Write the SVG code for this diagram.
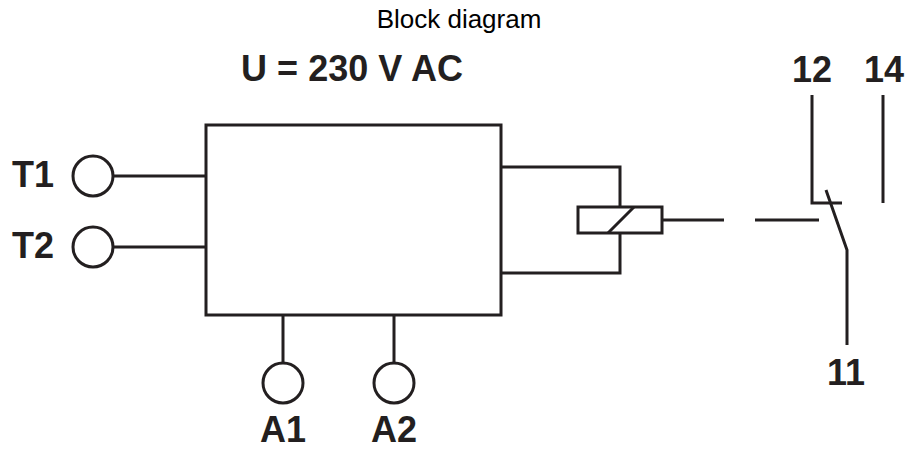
<svg xmlns="http://www.w3.org/2000/svg" width="907" height="450" viewBox="0 0 907 450">
<style>
.ln{stroke:#231f20;stroke-width:3;fill:none;stroke-linecap:butt}
.lbl{font-family:"Liberation Sans",Arial,sans-serif;font-weight:bold;font-size:36px;fill:#231f20}
.ttl{font-family:"Liberation Sans",Arial,sans-serif;font-size:26px;fill:#000}
</style>
<rect width="907" height="450" fill="#fff"/>
<text class="ttl" x="459" y="28" text-anchor="middle">Block diagram</text>
<text class="lbl" x="352" y="81" text-anchor="middle">U = 230 V AC</text>
<g id="module"><rect class="ln" x="206" y="125" width="295" height="190"/></g>
<g id="T1"><circle class="ln" cx="93" cy="176" r="20"/><text class="lbl" x="12" y="187">T1</text></g>
<g id="T2"><circle class="ln" cx="93" cy="247" r="20"/><text class="lbl" x="12" y="258">T2</text></g>
<g id="A1"><circle class="ln" cx="283" cy="383" r="20"/><text class="lbl" x="283" y="442" text-anchor="middle">A1</text></g>
<g id="A2"><circle class="ln" cx="394" cy="383" r="20"/><text class="lbl" x="394" y="442" text-anchor="middle">A2</text></g>
<g id="relay">
<rect class="ln" x="578" y="207" width="84" height="26"/>
<path class="ln" d="M608 233 L634 207"/>
</g>
<g id="contact">
<path class="ln" d="M812 95 V203 H842"/>
<path class="ln" d="M883 95 V203"/>
<path class="ln" d="M826 190 L847 250 V345"/>
<text class="lbl" x="812" y="82" text-anchor="middle">12</text>
<text class="lbl" x="884" y="82" text-anchor="middle">14</text>
<text class="lbl" x="846" y="385" text-anchor="middle">11</text>
</g>
<g id="connectors">
<path class="ln" d="M113 176 H206"/>
<path class="ln" d="M113 247 H206"/>
<path class="ln" d="M283 315 V363"/>
<path class="ln" d="M394 315 V363"/>
<path class="ln" d="M501 167 H620 V207"/>
<path class="ln" d="M501 273 H620 V233"/>
<path class="ln" d="M662 220 H724"/>
<path class="ln" d="M755 220 H819"/>
</g>
</svg>
